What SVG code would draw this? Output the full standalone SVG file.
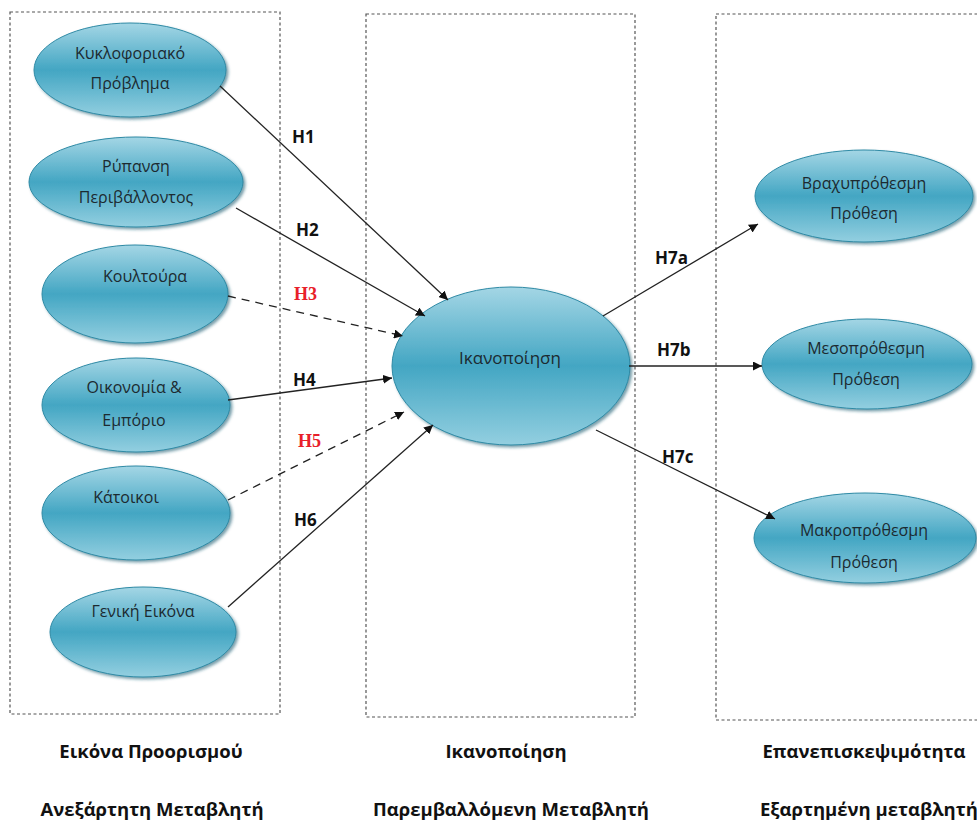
<svg xmlns="http://www.w3.org/2000/svg" width="977" height="824" viewBox="0 0 977 824">
<style>
.box{fill:none;stroke:#555;stroke-width:1.2;stroke-dasharray:3,2.5}
.el{fill:url(#g);stroke:#2f8aa5;stroke-width:1}
.nt{font-family:"Open Sans","Liberation Sans",sans-serif;font-size:16px;fill:#1c2a30;text-anchor:middle}
.ln{stroke:#222;stroke-width:1.3;fill:none}
.dash{stroke-dasharray:8,6}
.lb{font-family:"Open Sans","Liberation Sans",sans-serif;font-size:17px;font-weight:bold;fill:#111}
.rd{font-family:"Liberation Serif",serif;font-size:18px;font-weight:bold;fill:#e8202a}
.bt{font-family:"Open Sans","Liberation Sans",sans-serif;font-size:18.5px;font-weight:bold;fill:#111;text-anchor:middle}
</style>
<defs>
<linearGradient id="g" x1="0" y1="0" x2="0" y2="1">
<stop offset="0" stop-color="#a4d6e5"/>
<stop offset="0.5" stop-color="#43a6c3"/>
<stop offset="1" stop-color="#93cfe0"/>
</linearGradient>
<filter id="sh" x="-10%" y="-10%" width="130%" height="130%">
<feDropShadow dx="2" dy="2" stdDeviation="1.5" flood-color="#1d5f73" flood-opacity="0.6"/>
</filter>
<marker id="a" viewBox="0 0 10 10" refX="10" refY="5" markerWidth="9" markerHeight="9" markerUnits="userSpaceOnUse" orient="auto">
<path d="M0,0 L10,5 L0,10 z" fill="#111"/>
</marker>
</defs>
<rect class="box" x="10" y="12" width="270" height="702"/>
<rect class="box" x="366" y="14" width="269" height="703"/>
<rect class="box" x="716" y="14" width="270" height="706"/>

<g id="n1"><ellipse class="el" filter="url(#sh)" cx="130" cy="70" rx="96" ry="47"/><text class="nt" x="130" y="59">Κυκλοφοριακό</text><text class="nt" x="130" y="89">Πρόβλημα</text></g>
<g id="n2"><ellipse class="el" filter="url(#sh)" cx="136" cy="182" rx="107" ry="45"/><text class="nt" x="136" y="172">Ρύπανση</text><text class="nt" x="136" y="203">Περιβάλλοντος</text></g>
<g id="n3"><ellipse class="el" filter="url(#sh)" cx="135" cy="294" rx="93" ry="49"/><text class="nt" x="145" y="282">Κουλτούρα</text></g>
<g id="n4"><ellipse class="el" filter="url(#sh)" cx="136" cy="405" rx="94" ry="47"/><text class="nt" x="134" y="393">Οικονομία &amp;</text><text class="nt" x="134" y="426">Εμπόριο</text></g>
<g id="n5"><ellipse class="el" filter="url(#sh)" cx="136" cy="513" rx="94" ry="47"/><text class="nt" x="126" y="503">Κάτοικοι</text></g>
<g id="n6"><ellipse class="el" filter="url(#sh)" cx="143" cy="632" rx="93" ry="45"/><text class="nt" x="143" y="617">Γενική Εικόνα</text></g>
<g id="n7"><ellipse class="el" filter="url(#sh)" cx="511" cy="366" rx="119" ry="79"/><text class="nt" x="510" y="364" style="font-size:17px">Ικανοποίηση</text></g>
<g id="n8"><ellipse class="el" filter="url(#sh)" cx="864" cy="196" rx="109" ry="46"/><text class="nt" x="864" y="189">Βραχυπρόθεσμη</text><text class="nt" x="864" y="219">Πρόθεση</text></g>
<g id="n9"><ellipse class="el" filter="url(#sh)" cx="867" cy="364" rx="105" ry="45"/><text class="nt" x="866" y="354">Μεσοπρόθεσμη</text><text class="nt" x="866" y="385">Πρόθεση</text></g>
<g id="n10"><ellipse class="el" filter="url(#sh)" cx="865" cy="538" rx="111" ry="45"/><text class="nt" x="864" y="536">Μακροπρόθεσμη</text><text class="nt" x="864" y="568">Πρόθεση</text></g>

<g id="connectors">
<line class="ln" x1="220" y1="86" x2="448" y2="300" marker-end="url(#a)"/>
<line class="ln" x1="236" y1="208" x2="425" y2="316" marker-end="url(#a)"/>
<line class="ln dash" x1="228" y1="296" x2="403" y2="336" marker-end="url(#a)"/>
<line class="ln" x1="228" y1="400" x2="392" y2="378" marker-end="url(#a)"/>
<line class="ln dash" x1="228" y1="500" x2="404" y2="412" marker-end="url(#a)"/>
<line class="ln" x1="228" y1="607" x2="433" y2="425" marker-end="url(#a)"/>
<line class="ln" x1="603" y1="316" x2="758" y2="224" marker-end="url(#a)"/>
<line class="ln" x1="629" y1="366" x2="762" y2="366" marker-end="url(#a)"/>
<line class="ln" x1="596" y1="430" x2="775" y2="519" marker-end="url(#a)"/>
<text class="lb" x="292" y="143">H1</text>
<text class="lb" x="296" y="236">H2</text>
<text class="rd" x="294" y="300">H3</text>
<text class="lb" x="293" y="386">H4</text>
<text class="rd" x="298" y="447">H5</text>
<text class="lb" x="294" y="526">H6</text>
<text class="lb" x="655" y="264">H7a</text>
<text class="lb" x="657" y="356">H7b</text>
<text class="lb" x="662" y="463">H7c</text>
</g>

<text class="bt" x="151" y="758">Εικόνα Προορισμού</text>
<text class="bt" x="152" y="816">Ανεξάρτητη Μεταβλητή</text>
<text class="bt" x="506" y="758">Ικανοποίηση</text>
<text class="bt" x="511" y="816">Παρεμβαλλόμενη Μεταβλητή</text>
<text class="bt" x="864" y="758">Επανεπισκεψιμότητα</text>
<text class="bt" x="760" y="816" style="text-anchor:start">Εξαρτημένη μεταβλητή</text>
</svg>
